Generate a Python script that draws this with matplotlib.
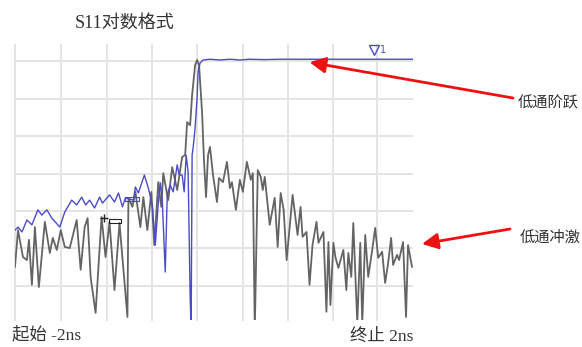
import matplotlib
matplotlib.use("Agg")
import matplotlib.pyplot as plt
import numpy as np

# ---- data (time in ns, magnitude in dB) ----
impulse_t = [-2.00, -1.97, -1.92, -1.88, -1.86, -1.83, -1.80, -1.76, -1.70, -1.65,
             -1.62, -1.58, -1.54, -1.50, -1.45, -1.38, -1.34, -1.30, -1.27, -1.24,
             -1.19, -1.13, -1.09, -1.05, -1.00, -0.95, -0.87, -0.86, -0.82, -0.79,
             -0.74, -0.71, -0.67, -0.63, -0.60, -0.56, -0.53, -0.51, -0.46, -0.42,
             -0.37, -0.32, -0.29, -0.27, -0.24, -0.22, -0.19, -0.17, -0.15, -0.12,
             -0.10, -0.08, -0.06, -0.04, -0.01, 0.03, 0.05, 0.09, 0.13, 0.16,
             0.18, 0.22, 0.26, 0.29, 0.33, 0.37, 0.39, 0.41, 0.44, 0.47,
             0.49, 0.51, 0.56, 0.61, 0.64, 0.67, 0.70, 0.73, 0.79, 0.84,
             0.87, 0.89, 0.93, 0.96, 0.99, 1.03, 1.05, 1.10, 1.13, 1.15,
             1.17, 1.20, 1.22, 1.25, 1.30, 1.33, 1.35, 1.38, 1.40, 1.44,
             1.47, 1.49, 1.52, 1.55, 1.59, 1.62, 1.65, 1.69, 1.72, 1.75,
             1.78, 1.80, 1.84, 1.86, 1.90, 1.93, 1.95, 1.99]
impulse_db = [-54.9, -45.1, -52.3, -53.1, -47.7, -59.7, -44.3, -60.3, -42.9, -51.2,
              -47.2, -50.4, -45.1, -49.6, -49.9, -42.4, -55.7, -44.3, -41.9, -57.6,
              -67.2, -41.6, -52.3, -42.9, -61.1, -43.2, -68.3, -36.5, -38.9, -34.9,
              -44.3, -36.3, -45.1, -34.9, -49.1, -32.3, -38.9, -29.9, -37.1, -28.3,
              -34.4, -25.6, -25.1, -16.3, -17.1, -9.1, -1.1, 0.3, -1.1, -13.6,
              -26.9, -36.3, -25.1, -22.9, -30.4, -37.6, -31.2, -32.3, -26.9, -33.9,
              -32.3, -39.7, -31.7, -34.9, -26.9, -31.7, -29.9, -72.0, -29.1, -30.9,
              -34.4, -30.9, -43.7, -36.5, -49.6, -35.2, -39.7, -53.1, -35.7, -46.4,
              -38.9, -46.9, -45.6, -59.7, -49.1, -42.9, -48.5, -45.6, -66.9, -48.3,
              -65.1, -48.5, -52.3, -55.2, -50.4, -61.1, -51.2, -57.6, -43.2, -70.0,
              -48.5, -70.0, -46.4, -57.6, -50.4, -44.5, -52.5, -50.9, -59.2, -53.9,
              -47.2, -54.4, -51.7, -53.1, -48.3, -68.3, -49.1, -54.9]

step_t = [-2.00, -1.97, -1.93, -1.88, -1.83, -1.77, -1.73, -1.68, -1.63, -1.55,
          -1.50, -1.43, -1.38, -1.33, -1.29, -1.25, -1.20, -1.15, -1.12, -1.05,
          -1.00, -0.96, -0.92, -0.89, -0.81, -0.79, -0.76, -0.70, -0.66, -0.62,
          -0.59, -0.56, -0.54, -0.52, -0.49, -0.47, -0.44, -0.41, -0.37, -0.35,
          -0.32, -0.30, -0.28, -0.26, -0.24, -0.23, -0.22, -0.21, -0.19, -0.17,
          -0.16, -0.14, -0.11, -0.04, 0.06, 0.16, 0.26, 0.36, 0.51, 0.66,
          0.86, 1.17, 1.47, 1.77, 2.00]
step_db = [-45.1, -44.3, -45.6, -42.4, -43.7, -39.7, -41.1, -39.7, -41.9, -44.3,
           -40.3, -37.1, -38.4, -36.3, -38.4, -37.1, -39.2, -36.3, -37.9, -35.7,
           -37.6, -35.2, -38.9, -36.5, -37.1, -33.6, -35.2, -30.4, -33.9, -38.4,
           -49.1, -37.9, -32.5, -37.1, -56.3, -35.7, -33.1, -34.9, -27.7, -30.4,
           -30.4, -34.9, -25.1, -29.6, -62.4, -72.0, -25.1, -23.2, -17.9, -9.9,
           -2.9, -0.5, 0.3, 0.5, 0.3, 0.5, 0.3, 0.5, 0.4, 0.5,
           0.5, 0.5, 0.5, 0.5, 0.5]

x_grid = [-2.00, -1.54, -1.08, -0.62, -0.17, 0.29, 0.74, 1.20, 1.64]
y_grid = [0, -10, -20, -30, -40, -50, -60]

title = "S11对数格式"
start_label = "起始 -2ns"
stop_label = "终止 2ns"
step_label = "低通阶跃"
impulse_label = "低通冲激"

# ---- figure ----
W, H = 582, 347
fig = plt.figure(figsize=(W / 100, H / 100), dpi=100)
ax = fig.add_axes([15 / W, 1 - 320 / H, 398 / W, 275 / H])
ax.set_xlim(-2, 2)
ax.set_ylim(-69.1, 4.3)
for s in ax.spines.values():
    s.set_visible(False)
ax.set_xticks([])
ax.set_yticks([])

for xv in x_grid:
    ax.axvline(xv, color="#e4e4e4", lw=1.4, zorder=0, clip_on=False)
for yv in y_grid:
    ax.axhline(yv, color="#e4e4e4", lw=1.4, zorder=0)

ax.plot(impulse_t, impulse_db, color="#646464", lw=1.3, zorder=2)
ax.plot(step_t, step_db, color="#4b4bc8", lw=1.0, zorder=3)

# markers
ax.plot([-1.11], [-41.9], marker="+", color="#222222", ms=6, mew=1.0, zorder=4)
ax.plot([-1.00], [-42.8], marker=[(-3, -1), (3, -1), (3, 1), (-3, 1), (-3, -1)],
        color="#222222", ms=9, mfc="none", mew=0.8, zorder=4)
ax.plot([-0.82], [-36.8], marker=[(-3, -1), (3, -1), (3, 1), (-3, 1), (-3, -1)],
        color="#4b4bc8", ms=10, mfc="none", mew=0.8, zorder=4)
ax.plot([1.61], [2.9], marker="v", color="#4b4bc8", ms=7, mfc="none", mew=1.0,
        zorder=4, clip_on=False)
ax.text(1.67, 2.9, "1", color="#4b4bc8", fontsize=7, va="center", ha="left",
        family=["DejaVu Sans"], clip_on=False)

cjk = ["Liberation Serif", "Noto Sans CJK SC", "DejaVu Sans"]
fig.text(125 / W, 1 - 23 / H, title, ha="center", va="center", fontsize=13,
         color="#333333", family=cjk)
fig.text(12 / W, 1 - 335 / H, start_label, ha="left", va="center", fontsize=12.5,
         color="#333333", family=cjk)
fig.text(413 / W, 1 - 337 / H, stop_label, ha="right", va="center", fontsize=12.5,
         color="#333333", family=cjk)
fig.text(518 / W, 1 - 103 / H, step_label, ha="left", va="center", fontsize=11,
         color="#333333", family=["Noto Sans CJK SC", "DejaVu Sans"])
fig.text(520 / W, 1 - 237 / H, impulse_label, ha="left", va="center", fontsize=11,
         color="#333333", family=["Noto Sans CJK SC", "DejaVu Sans"])

arrow = dict(arrowstyle="-|>,head_length=0.8,head_width=0.4", color="#ee1111",
             lw=2.0, mutation_scale=12, shrinkA=0, shrinkB=0)
ax.annotate("", xy=(0.96, -0.3), xytext=(513, H - 98), textcoords="figure pixels",
            arrowprops=arrow, annotation_clip=False)
ax.annotate("", xy=(2.09, -48.8), xytext=(510, H - 229), textcoords="figure pixels",
            arrowprops=arrow, annotation_clip=False)

fig.savefig("out.png", dpi=100)
